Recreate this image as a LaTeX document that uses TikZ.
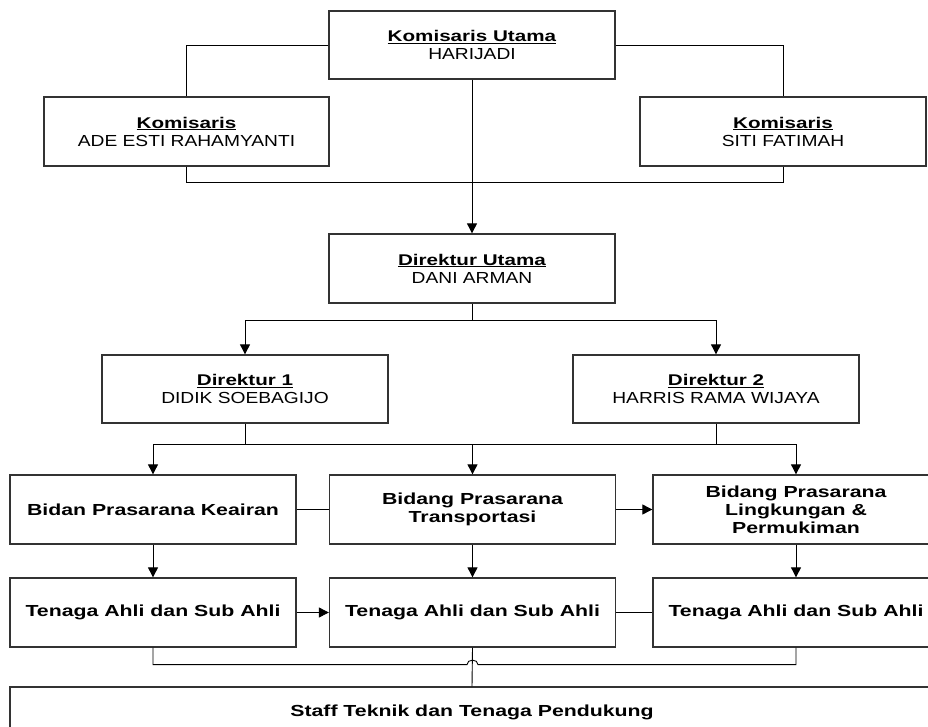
\documentclass[tikz,border=0pt]{standalone}
\usepackage{fontspec}
\setmainfont[FakeStretch=1.33]{Liberation Sans}
\newfontfamily\namefont[FakeStretch=1.2]{Liberation Sans}
\usetikzlibrary{arrows.meta,calc}
\newcommand{\headtxt}[2]{\underline{\textbf{#1}}\\{\namefont\fontsize{16}{18}\selectfont #2}}
\begin{document}
\begin{tikzpicture}[x=1pt,y=-1pt,
  box/.style={draw=black!80, line width=1.3pt, fill=white, minimum width=286pt, minimum height=69pt,
    inner sep=0pt, align=center, font=\fontsize{15.5}{18}\selectfont},
  bbox/.style={box, font=\fontsize{16}{18}\selectfont\bfseries},
  conn/.style={draw=black, line width=0.9pt},
  arr/.style={conn, -{Triangle[length=10pt,width=10pt]}}]
\path[use as bounding box, clip] (0,0) rectangle (928,727);
\fill[white] (0,0) rectangle (928,727);
% nodes
\node[box, minimum height=68pt] (ku) at (472,45) {\headtxt{Komisaris Utama}{HARIJADI}};
\node[box, minimum width=285pt] (kl) at (186.5,131.5) {\headtxt{Komisaris}{ADE ESTI RAHAMYANTI}};
\node[box] (kr) at (783,131.5) {\headtxt{Komisaris}{SITI FATIMAH}};
\node[box] (du) at (472,268.5) {\headtxt{Direktur Utama}{DANI ARMAN}};
\node[box, minimum height=68pt] (d1) at (245,389) {\headtxt{Direktur 1}{DIDIK SOEBAGIJO}};
\node[box, minimum height=68pt] (d2) at (716,389) {\headtxt{Direktur 2}{HARRIS RAMA WIJAYA}};
\node[bbox] (b1) at (153,509.5) {Bidan Prasarana Keairan};
\node[bbox] (b2) at (472.5,509.5) {Bidang Prasarana\\Transportasi};
\node[bbox] (b3) at (796,509.5) {Bidang Prasarana\\Lingkungan \&\\Permukiman};
\node[bbox] (t1) at (153,612.5) {Tenaga Ahli dan Sub Ahli};
\node[bbox] (t2) at (472.5,612.5) {Tenaga Ahli dan Sub Ahli};
\node[bbox] (t3) at (796,612.5) {Tenaga Ahli dan Sub Ahli};
\node[bbox, minimum width=924pt, minimum height=50pt] (st) at (472,712) {Staff Teknik dan Tenaga Pendukung};
% connectors top
\draw[conn] (ku.west) -| (kl.north);
\draw[conn] (ku.east) -| (kr.north);
\draw[conn] (kl.south) -- ++(0,16) -| (kr.south);
\draw[arr] (ku.south) -- (du.north);
% direktur utama to direktur 1/2
\draw[conn] (du.south) -- ++(0,17) coordinate (j1);
\draw[arr] (j1) -| (d1.north);
\draw[arr] (j1) -| (d2.north);
% direktur 1/2 to bidang
\draw[conn] (d1.south) -- ++(0,21) coordinate (j2);
\draw[conn] (d2.south) -- ++(0,21) coordinate (j3);
\draw[conn] (j2) -- (j3);
\draw[arr] (j2) -| (b1.north);
\draw[arr] (j3) -| (b3.north);
\coordinate (j4) at (j2 -| b2.north);
\draw[arr] (j4) -- (b2.north);
% row links
\draw[conn] (b1.east) -- (b2.west);
\draw[arr] (b2.east) -- (b3.west);
\draw[arr] (b1.south) -- (t1.north);
\draw[arr] (b2.south) -- (t2.north);
\draw[arr] (b3.south) -- (t3.north);
\draw[arr] (t1.east) -- (t2.west);
\draw[conn] (t2.east) -- (t3.west);
% bottom
\coordinate (hl) at ($(t1.south)+(0,17)$);
\coordinate (hc) at (t2.south |- hl);
\draw[conn] (t2.south) -- (st.north);
\draw[conn] (t1.south) |- ($(hc)+(-5.5,0)$) .. controls +(0,-6) and +(0,-6) .. ($(hc)+(5.5,0)$) -| (t3.south);
\end{tikzpicture}
\end{document}
